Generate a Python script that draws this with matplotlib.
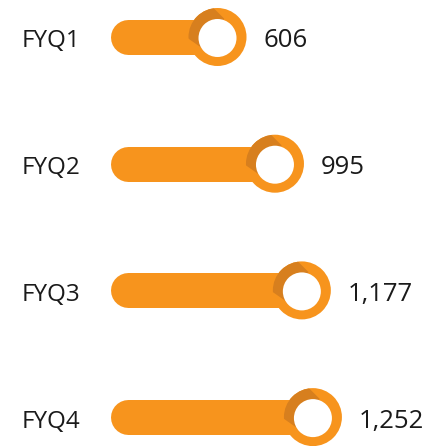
import matplotlib.pyplot as plt
from matplotlib.patches import Circle, Polygon
from matplotlib.transforms import ScaledTranslation, offset_copy

# quarterly values
quarters = ['FYQ1', 'FYQ2', 'FYQ3', 'FYQ4']
values = [606, 995, 1177, 1252]

orange = '#F7941D'
dark_orange = '#D77F1E'
text_color = '#1a1a1a'

plt.rcParams['font.family'] = ['Open Sans', 'DejaVu Sans']

fig = plt.figure(figsize=(4.38, 4.46), dpi=100)
ax = fig.add_axes([0, 0, 1, 1])
ax.set_xlim(-866.6, 2098.8)
ax.set_ylim(3.228, -0.292)
ax.axis('off')

# knob geometry in inches
r_out = 0.29
r_in = 0.19
# diagonal shadow band over the upper-left part of the ring
shade = [(0.067, 0.183), (-0.233, 0.483), (-0.50, 0.13), (-0.10, -0.15)]

for i, (q, v) in enumerate(zip(quarters, values)):
    # bar with rounded end
    ax.plot([0, v], [i, i], color=orange, lw=25.2, solid_capstyle='round', zorder=1)

    # knob at bar end
    tr = fig.dpi_scale_trans + ScaledTranslation(v, i, ax.transData)
    ring = Circle((0, 0), r_out, transform=tr, color=orange, lw=0, zorder=2)
    ax.add_patch(ring)
    sh = Polygon(shade, closed=True, transform=tr, color=dark_orange, lw=0, zorder=3)
    ax.add_patch(sh)
    sh.set_clip_path(ring)
    ax.add_patch(Circle((0, -0.01), r_in, transform=tr, color='white', lw=0, zorder=4))

    # category label
    lt = offset_copy(ax.get_yaxis_transform(), fig=fig, x=0, y=-7.5, units='points')
    ax.text(0.05, i, q, transform=lt, fontsize=17.5,
            color=text_color, ha='left', va='baseline')

    # value label
    vt = offset_copy(ax.transData, fig=fig, x=33, y=-7.5, units='points')
    ax.text(v, i, f'{v:,}', transform=vt, fontsize=18.5, color=text_color,
            ha='left', va='baseline')

fig.savefig('out.png', dpi=100)
